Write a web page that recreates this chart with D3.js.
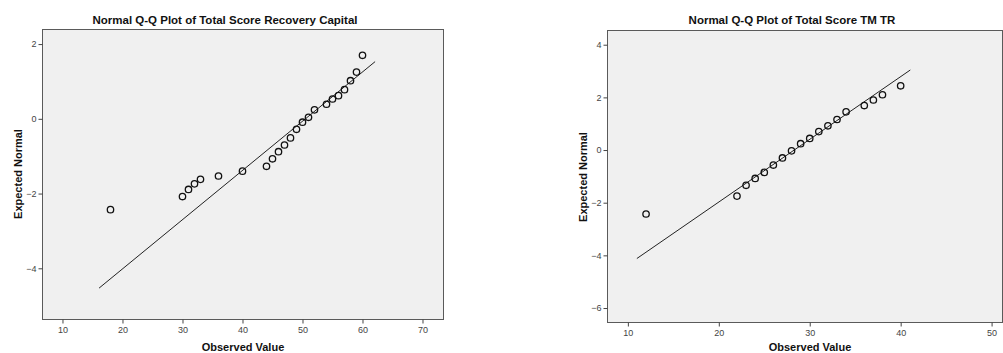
<!DOCTYPE html>
<html><head><meta charset="utf-8">
<script src="https://cdn.jsdelivr.net/npm/d3@7/dist/d3.min.js"></script>
<style>
html,body{margin:0;padding:0;background:#fff;}
svg{display:block;font-family:"Liberation Sans",Arial,sans-serif;}
</style></head><body>
<svg id="chart" width="1003" height="353"></svg>
<script>
// ---- Left panel: Total Score Recovery Capital ----
const rcTitle = "Normal Q-Q Plot of Total Score Recovery Capital";
const rcObserved = [18, 30, 31, 32, 33, 36, 40, 44, 45, 46, 47, 48, 49, 50, 51, 52, 54, 55, 56, 57, 58, 59, 60];
const rcExpected = [-2.43, -2.08, -1.89, -1.74, -1.62, -1.53, -1.40, -1.27, -1.07, -0.88, -0.70, -0.51, -0.28, -0.09, 0.04, 0.24, 0.39, 0.53, 0.62, 0.78, 1.02, 1.25, 1.70];
const rcLineX = [16.1, 62.1];
const rcLineY = [-4.53, 1.53];
const rcXTicks = [10, 20, 30, 40, 50, 60, 70];
const rcYTicks = [2, 0, -2, -4];
const rcXDomain = [6.67, 73.5];
const rcYDomain = [-5.37, 2.39];

// ---- Right panel: Total Score TM TR ----
const tmTitle = "Normal Q-Q Plot of Total Score TM TR";
const tmObserved = [12, 22, 23, 24, 25, 26, 27, 28, 29, 30, 31, 32, 33, 34, 36, 37, 38, 40];
const tmExpected = [-2.43, -1.75, -1.34, -1.08, -0.85, -0.57, -0.30, -0.03, 0.24, 0.44, 0.70, 0.92, 1.16, 1.45, 1.69, 1.90, 2.10, 2.44];
const tmLineX = [10.99, 41.06];
const tmLineY = [-4.12, 3.04];
const tmXTicks = [10, 20, 30, 40, 50];
const tmYTicks = [4, 2, 0, -2, -4, -6];
const tmXDomain = [7.76, 51.2];
const tmYDomain = [-6.55, 4.54];

const xLabel = "Observed Value";
const yLabel = "Expected Normal";

const svg = d3.select("#chart");

function panel(cfg) {
  const g = svg.append("g");
  const x = d3.scaleLinear().domain(cfg.xDomain).range([cfg.left, cfg.right]);
  const y = d3.scaleLinear().domain(cfg.yDomain).range([cfg.bottom, cfg.top]);

  g.append("rect")
    .attr("x", cfg.left).attr("y", cfg.top)
    .attr("width", cfg.right - cfg.left).attr("height", cfg.bottom - cfg.top)
    .attr("fill", "#f0f0f0").attr("stroke", "#5a5a5a").attr("stroke-width", 1);

  const xAxis = d3.axisBottom(x).tickValues(cfg.xTicks).tickSize(4).tickPadding(3).tickFormat(d3.format("d"));
  const gx = g.append("g").attr("transform", `translate(0,${cfg.bottom})`).call(xAxis);
  gx.select(".domain").remove();
  gx.selectAll(".tick line").attr("stroke", "#444");
  gx.selectAll(".tick text").attr("font-size", 9).attr("fill", "#444").attr("font-family", "'Liberation Sans',Arial,sans-serif");

  const yAxis = d3.axisLeft(y).tickValues(cfg.yTicks).tickSize(4).tickPadding(2).tickFormat(d3.format("d"));
  const gy = g.append("g").attr("transform", `translate(${cfg.left},0)`).call(yAxis);
  gy.select(".domain").remove();
  gy.selectAll(".tick line").attr("stroke", "#444");
  gy.selectAll(".tick text").attr("font-size", 9).attr("fill", "#444").attr("font-family", "'Liberation Sans',Arial,sans-serif");

  const line = d3.line().x(d => x(d[0])).y(d => y(d[1]));
  g.append("path")
    .datum(d3.zip(cfg.lineX, cfg.lineY))
    .attr("d", line).attr("fill", "none").attr("stroke", "#222").attr("stroke-width", 1);

  g.selectAll("circle.pt").data(d3.zip(cfg.obs, cfg.exp)).join("circle")
    .attr("class", "pt")
    .attr("cx", d => x(d[0])).attr("cy", d => y(d[1])).attr("r", 3.2)
    .attr("fill", "none").attr("stroke", "#111").attr("stroke-width", 1.3);

  g.append("text").attr("x", cfg.titleX).attr("y", 24)
    .attr("text-anchor", "middle").attr("font-size", 11.5).attr("font-weight", "bold").attr("fill", "#111")
    .text(cfg.title);

  g.append("text").attr("x", cfg.xLabX).attr("y", 351)
    .attr("text-anchor", "middle").attr("font-size", 11).attr("font-weight", "bold").attr("fill", "#111")
    .text(xLabel);

  g.append("text").attr("transform", `translate(${cfg.yLabX},${cfg.yLabY}) rotate(-90)`)
    .attr("text-anchor", "middle").attr("font-size", 11).attr("font-weight", "bold").attr("fill", "#111")
    .text(yLabel);
}

panel({
  title: rcTitle, obs: rcObserved, exp: rcExpected, lineX: rcLineX, lineY: rcLineY,
  xTicks: rcXTicks, yTicks: rcYTicks, xDomain: rcXDomain, yDomain: rcYDomain,
  left: 42.5, right: 443.5, top: 29.5, bottom: 319.5,
  titleX: 225, xLabX: 243, yLabX: 22, yLabY: 174
});

panel({
  title: tmTitle, obs: tmObserved, exp: tmExpected, lineX: tmLineX, lineY: tmLineY,
  xTicks: tmXTicks, yTicks: tmYTicks, xDomain: tmXDomain, yDomain: tmYDomain,
  left: 607.5, right: 1002.5, top: 30.5, bottom: 322.5,
  titleX: 792, xLabX: 810, yLabX: 587, yLabY: 177
});
</script>
</body></html>
